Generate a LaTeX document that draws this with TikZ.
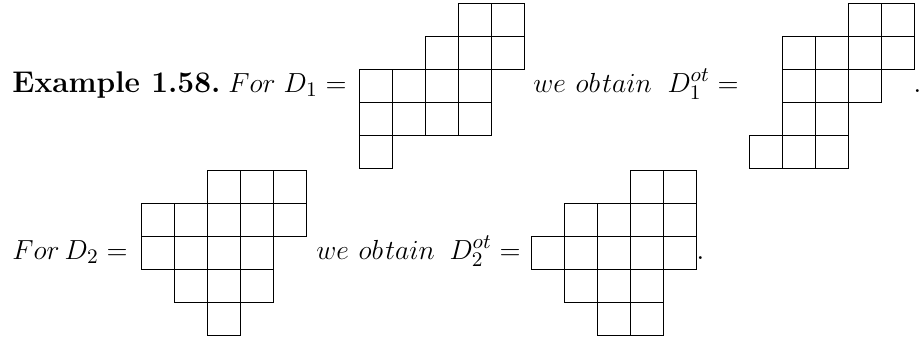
\documentclass[tikz,border=0pt]{standalone}
\usepackage{amsmath}
\begin{document}
\begin{tikzpicture}[x=0.4348pt,y=-0.4348pt,
  cell/.style={draw=black,line width=0.4pt},
  txt/.style={inner sep=0pt,anchor=base west,font=\fontsize{13}{16}\selectfont},
  txte/.style={txt,anchor=base east}]
\useasboundingbox (0,0) rectangle (920,340);
% D1
\foreach \c/\r in {3/0,4/0,2/1,3/1,4/1,0/2,1/2,2/2,3/2,0/3,1/3,2/3,3/3,0/4}
  \draw[cell] ({359.5+33*\c},{3.3+33*\r}) rectangle ++(33,33);
% D1 ot
\foreach \c/\r in {3/0,4/0,1/1,2/1,3/1,4/1,1/2,2/2,3/2,1/3,2/3,0/4,1/4,2/4}
  \draw[cell] ({749.5+33*\c},{3.3+33*\r}) rectangle ++(33,33);
% D2
\foreach \c/\r in {2/0,3/0,4/0,0/1,1/1,2/1,3/1,4/1,0/2,1/2,2/2,3/2,1/3,2/3,3/3,2/4}
  \draw[cell] ({141+33*\c},{170+33*\r}) rectangle ++(33,33);
% D2 ot
\foreach \c/\r in {3/0,4/0,1/1,2/1,3/1,4/1,0/2,1/2,2/2,3/2,4/2,1/3,2/3,3/3,2/4,3/4}
  \draw[cell] ({531+33*\c},{170+33*\r}) rectangle ++(33,33);
% texts, row 1
\node[txt] (ex) at (12,92) {\textbf{Example 1.58.}};
\node[txt] (for1) at (228,92) {$For$};
\node[txte] (d1) at (347,92) {$D_1 =$};
\node[txt] (we1) at (533,92) {$we\ ob\mkern1.5mu tain$};
\node[txte] (d1ot) at (739,92) {$D_1^{ot} =$};
\node[txt] (dot1) at (913,92) {.};
% texts, row 2
\node[txt] (for2) at (12,259) {$For$};
\node[txte] (d2) at (128,259) {$D_2 =$};
\node[txt] (we2) at (316,259) {$we\ ob\mkern1.5mu tain$};
\node[txte] (d2ot) at (521,259) {$D_2^{ot} =$};
\node[txt] (dot2) at (696,259) {.};
\end{tikzpicture}
\end{document}
